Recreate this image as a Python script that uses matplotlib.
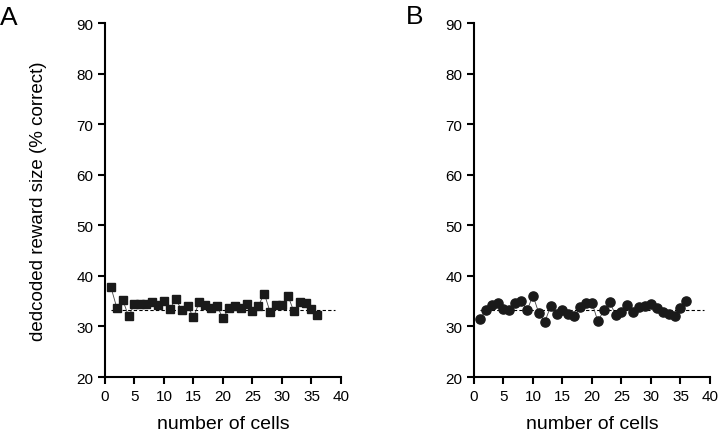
import numpy as np
import matplotlib.pyplot as plt

plt.rcParams['font.family'] = ['Liberation Sans', 'DejaVu Sans']

# number of cells
cells = np.arange(1, 37)

# panel A (squares)
decoded_a = [37.8, 33.7, 35.3, 32.0, 34.4, 34.5, 34.4, 34.9, 34.2, 35.1,
             33.5, 35.4, 33.2, 34.0, 31.8, 34.9, 34.2, 33.6, 34.0, 31.6,
             33.6, 34.1, 33.6, 34.5, 33.0, 34.1, 36.5, 32.8, 34.3, 34.3,
             36.1, 33.0, 34.9, 34.6, 33.5, 32.2]

# panel B (circles)
decoded_b = [31.4, 33.3, 34.3, 34.6, 33.4, 33.3, 34.6, 35.1, 33.2, 36.1,
             32.6, 30.9, 34.0, 32.5, 33.3, 32.5, 32.0, 33.8, 34.6, 34.7,
             31.0, 33.2, 34.8, 32.3, 32.8, 34.3, 32.8, 33.8, 34.0, 34.4,
             33.6, 32.8, 32.5, 32.1, 33.7, 35.1]

chance = 100 / 3
chance_x = [1, 39]

fig = plt.figure(figsize=(7.2, 4.35), dpi=100)
ax_a = fig.add_axes([0.1458, 0.1310, 0.3278, 0.8138])
ax_b = fig.add_axes([0.6583, 0.1310, 0.3278, 0.8138])

for ax, vals, mk, ms in [(ax_a, decoded_a, 's', 5.8), (ax_b, decoded_b, 'o', 6.6)]:
    ax.plot(chance_x, [chance, chance], color='black', linestyle=(0, (3, 2)), linewidth=0.8)
    ax.plot(cells, vals, color='#444444', linewidth=0.6, marker=mk,
            markersize=ms, markerfacecolor='#1a1a1a', markeredgecolor='#1a1a1a')
    ax.set_xlim(0, 40)
    ax.set_ylim(20, 90)
    ax.set_xticks(range(0, 41, 5))
    ax.set_yticks(range(20, 91, 10))
    for s in ['top', 'right']:
        ax.spines[s].set_visible(False)
    for s in ['left', 'bottom']:
        ax.spines[s].set_linewidth(1.5)
    ax.tick_params(direction='out', length=5, width=1.5, labelsize=11, pad=3.5)
    ax.set_xlabel('number of cells', fontsize=14, labelpad=9)

ax_a.set_ylabel('dedcoded reward size (% correct)', fontsize=13.5, labelpad=21)

fig.text(0.0, 1 - 25 / 435, 'A', fontsize=19, va='baseline')
fig.text(406 / 720, 1 - 24 / 435, 'B', fontsize=19, va='baseline')

fig.savefig('out.png', dpi=100)
